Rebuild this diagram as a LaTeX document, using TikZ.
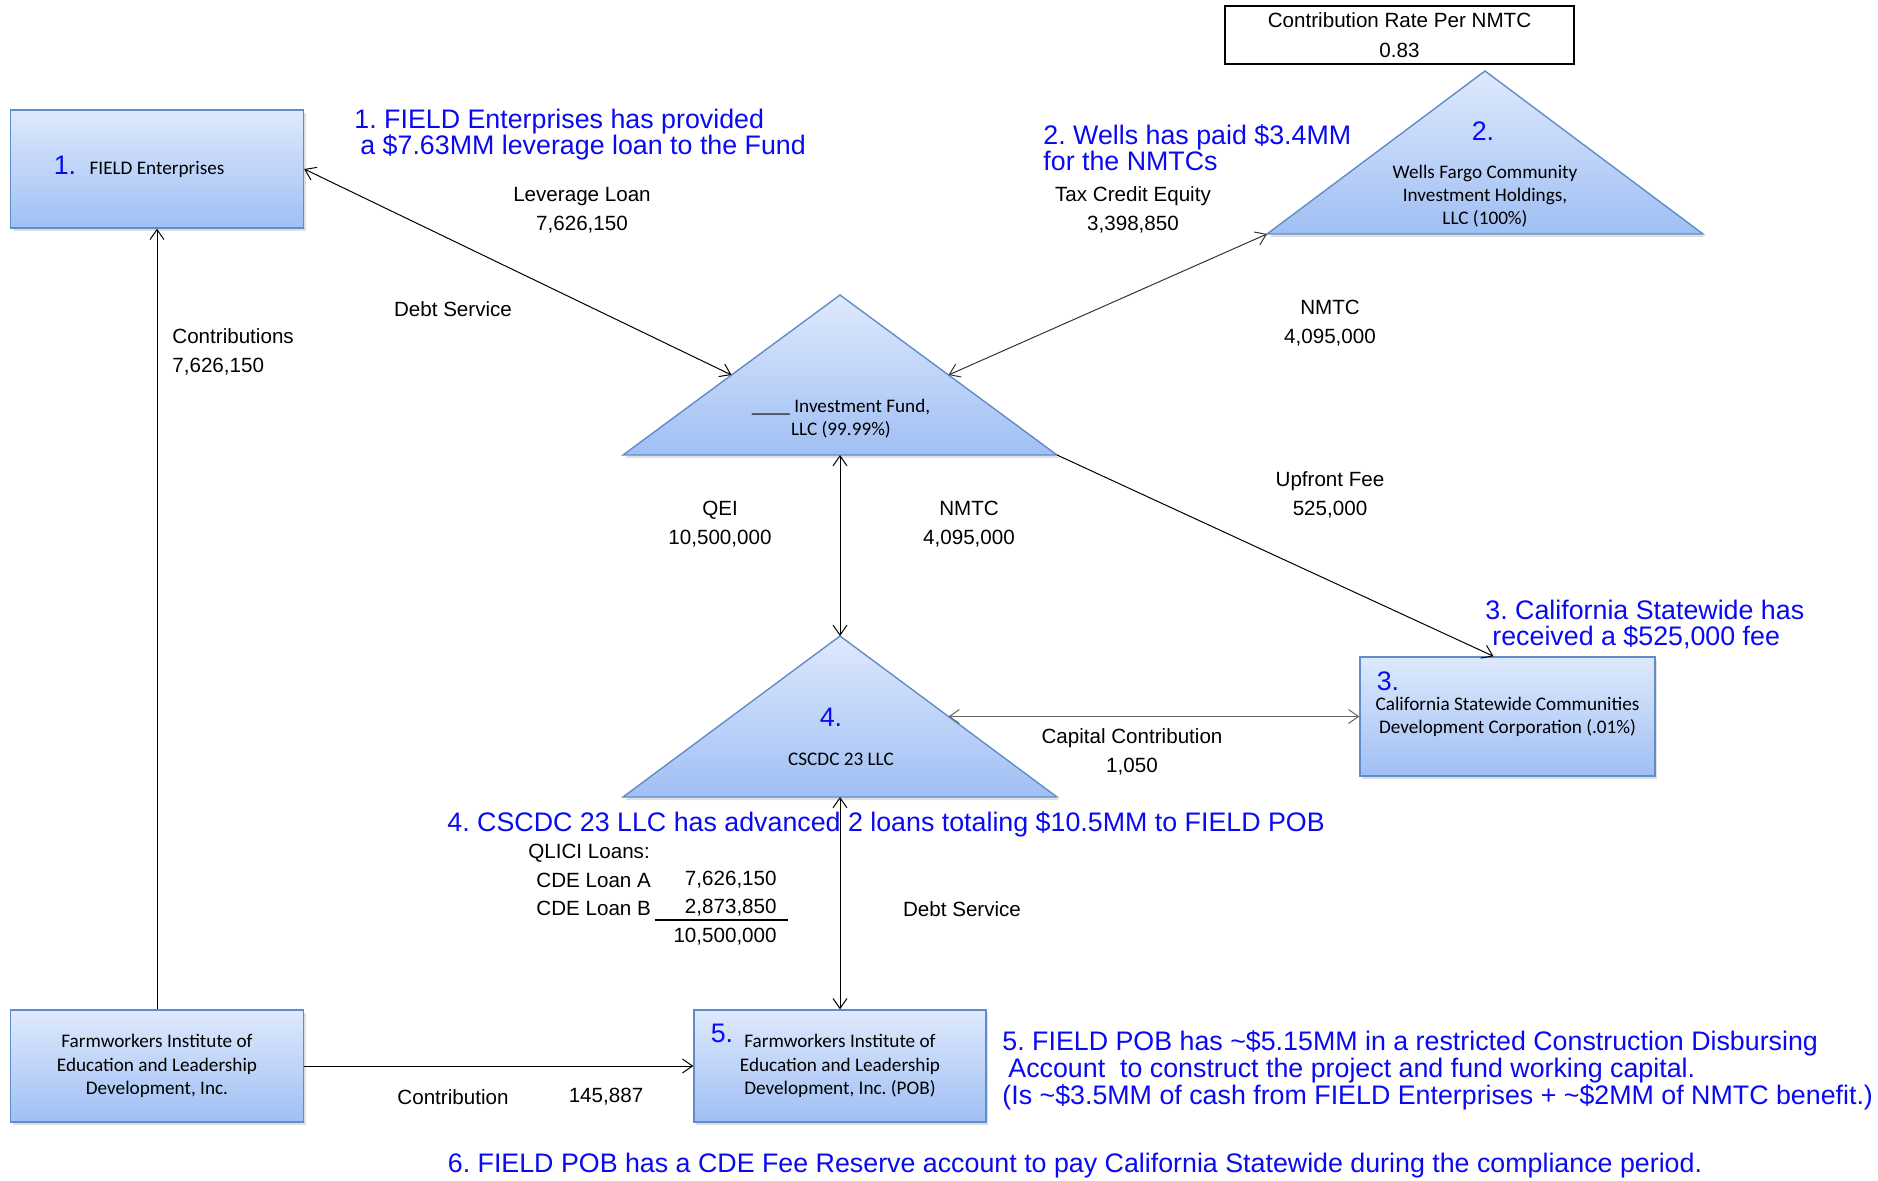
\documentclass[tikz,border=0pt]{standalone}
\usepackage{fontspec}
\setmainfont{Liberation Sans}
\newfontfamily\calfont{Carlito}
\usetikzlibrary{arrows.meta, shadows, calc, positioning}
\definecolor{boxtop}{RGB}{222,233,252}
\definecolor{boxbot}{RGB}{160,191,244}
\definecolor{boxline}{RGB}{96,141,200}
\definecolor{noteblue}{RGB}{10,10,240}
\frenchspacing

\begin{document}
\begin{tikzpicture}[
			x=0.5pt, y=-0.5pt,
			>={Straight Barb[length=5pt,width=7pt]},
			blueshape/.style={
					draw=boxline,
					line width=0.7pt,
					top color=boxtop,
					bottom color=boxbot,
					drop shadow={opacity=0.25, shadow xshift=1pt, shadow yshift=-1.5pt}
				},
			entity/.style={
					blueshape,
					font=\calfont\fontsize{9.6}{11.6}\selectfont,
					align=center,
					inner sep=0pt
				},
			entitytext/.style={font=\calfont\fontsize{9.6}{11.4}\selectfont, align=center, inner sep=0pt},
			flowlbl/.style={font=\fontsize{10.3}{14.5}\selectfont, align=center, inner sep=0pt},
			numlbl/.style={text=noteblue, font=\fontsize{13.4}{13.4}\selectfont, inner sep=0pt},
			note/.style={text=noteblue, font=\fontsize{13.4}{13}\selectfont, align=left, inner sep=0pt, anchor=west},
			flow/.style={draw, line width=0.5pt}
		]
		\useasboundingbox (0,0) rectangle (1878,1181);

		% boxes
		\node[entity, minimum width=146.5pt, minimum height=59pt] (field) at (157,169) {FIELD Enterprises};
		\node[numlbl] (fieldnum) at (65,165) {1.};

		\node[entity, minimum width=147.5pt, minimum height=59.5pt] (calif) at (1507.5,716.5)
		{California Statewide Communities\\Development Corporation (.01\%)};
		\node[numlbl] (califnum) at (1388,681) {3.};

		\node[entity, minimum width=146.5pt, minimum height=56pt] (fiel) at (157,1066)
		{Farmworkers Institute of\\Education and Leadership\\Development, Inc.};

		\node[entity, minimum width=146pt, minimum height=56pt] (pob) at (840,1066)
		{Farmworkers Institute of\\Education and Leadership\\Development, Inc. (POB)};
		\node[numlbl] (pobnum) at (722,1033) {5.};

		\node[draw, line width=1pt, minimum width=174.5pt, minimum height=29pt, inner sep=0pt,
			font=\fontsize{10.3}{15}\selectfont, align=center] (rate) at (1399.5,35)
		{Contribution Rate Per NMTC\\0.83};

		% triangles
		\path[blueshape] (1267,234) coordinate (wellsL) -- (1485,71) coordinate (wellsT)
		-- (1703,234) coordinate (wellsR) -- cycle;
		\node[numlbl] (wellsnum) at (1483,131) {2.};
		\node[entitytext] (wells) at (1485,196) {Wells Fargo Community\\Investment Holdings,\\LLC (100\%)};

		\path[blueshape] (623,455) coordinate (fundL) -- (840,295) coordinate (fundT)
		-- (1057,455) coordinate (fundR) -- cycle;
		\node[entitytext] (fund) at (841,419) {\_\_\_\_ Investment Fund,\\LLC (99.99\%)};

		\path[blueshape] (623,797) coordinate (cscdcL) -- (840,636) coordinate (cscdcT)
		-- (1057,797) coordinate (cscdcR) -- cycle;
		\node[numlbl] (cscdcnum) at (831,717) {4.};
		\node[entitytext] (cscdc) at (841,759) {CSCDC 23 LLC};

		\coordinate (fundLm) at ($(fundL)!0.5!(fundT)$);
		\coordinate (fundRm) at ($(fundR)!0.5!(fundT)$);
		\coordinate (fundB) at (840,455);
		\coordinate (cscdcRm) at ($(cscdcR)!0.5!(cscdcT)$);
		\coordinate (cscdcB) at (840,797);

		% connectors
		\draw[flow, <->] (field.east) -- (fundLm);
		\draw[flow, <->, black!80] (fundRm) -- (wellsL);
		\draw[flow, <->] (fundB) -- (cscdcT);
		\draw[flow, ->] (fundR) -- ([xshift=-7pt]calif.north);
		\draw[flow, <->, black!60] (cscdcRm) -- (calif.west);
		\draw[flow, <->] (cscdcB) -- (pob.north);
		\draw[flow, ->] (fiel.north) -- (field.south);
		\draw[flow, ->] (fiel.east) -- (pob.west);

		% flow labels
		\node[flowlbl] (levlbl) at (582,210) {Leverage Loan\\7,626,150};
		\node[flowlbl] (debtlbl) at (453,309) {Debt Service};
		\node[flowlbl, align=left, anchor=west] (contlbl) at (172,352) {Contributions\\7,626,150};
		\node[flowlbl] (taxlbl) at (1133,210) {Tax Credit Equity\\3,398,850};
		\node[flowlbl] (nmtclbl) at (1330,323) {NMTC\\4,095,000};
		\node[flowlbl] (qeilbl) at (720,524) {QEI\\10,500,000};
		\node[flowlbl] (nmtcdown) at (969,524) {NMTC\\4,095,000};
		\node[flowlbl] (feelbl) at (1330,495) {Upfront Fee\\525,000};
		\node[flowlbl] (caplbl) at (1132,752) {Capital Contribution\\1,050};
		\node[flowlbl] (debtlow) at (962,909) {Debt Service};
		\node[flowlbl] (pcontlbl) at (453,1097) {Contribution};
		\node[flowlbl] (pcontval) at (606,1097) {145,887};

		% QLICI loans
		\node[flowlbl, anchor=west] (qlici) at (528,853) {QLICI Loans:};
		\node[flowlbl, anchor=west] (loana) at (536,880) {CDE Loan A};
		\node[flowlbl, anchor=east] (loanaval) at (777,880) {7,626,150};
		\node[flowlbl, anchor=west] (loanb) at (536,908) {CDE Loan B};
		\node[flowlbl, anchor=east] (loanbval) at (777,908) {2,873,850};
		\draw[line width=0.8pt] (655,920) -- (788,920);
		\node[flowlbl, anchor=east] (loantot) at (777,937) {10,500,000};

		% blue notes
		\node[note] (note1) at (354,135) {1. FIELD Enterprises has provided\\\hspace{3pt}a \$7.63MM leverage loan to the Fund};
		\node[note] (note2) at (1043,148) {2. Wells has paid \$3.4MM\\for the NMTCs};
		\node[note] (note3) at (1485,625) {3. California Statewide has\\\hspace{3.5pt}received a \$525,000 fee};
		\node[note] (note4) at (447,824) {4. CSCDC 23 LLC has advanced 2 loans totaling \$10.5MM to FIELD POB};
		\node[note, font=\fontsize{13.4}{13.5}\selectfont] (note5) at (1002,1070)
		{5. FIELD POB has \textasciitilde\$5.15MM in a restricted Construction Disbursing\\
			\hspace{3pt}Account\ \ to construct the project and fund working capital.\\
			(Is \textasciitilde\$3.5MM of cash from FIELD Enterprises + \textasciitilde\$2MM of NMTC benefit.)};
		\node[note, anchor=center] (note6) at (1075,1166)
		{6. FIELD POB has a CDE Fee Reserve account to pay California Statewide during the compliance period.};
	\end{tikzpicture}
\end{document}
